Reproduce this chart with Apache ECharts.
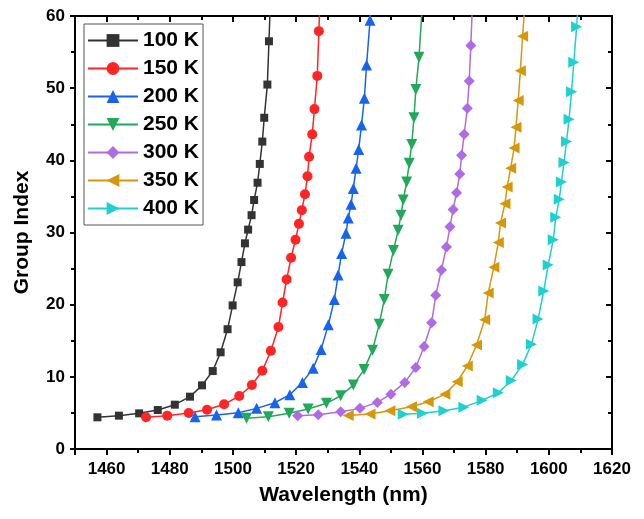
<!DOCTYPE html>
<html>
<head>
<meta charset="utf-8">
<script src="https://cdn.jsdelivr.net/npm/echarts@6/dist/echarts.min.js"></script>
<style>
  html, body { margin: 0; padding: 0; background: #fff; }
  #main { width: 644px; height: 519px; }
</style>
</head>
<body>
<div id="main"></div>
<script>
var names = ['100 K', '150 K', '200 K', '250 K', '300 K', '350 K', '400 K'];

// wavelength (nm) per temperature, last point is where the line leaves the frame
var x100 = [1457.1, 1463.9, 1470.3, 1476.2, 1481.6, 1486.4, 1490.2, 1493.6, 1496.1, 1498.3, 1499.9, 1501.5, 1502.7, 1503.8, 1504.8, 1505.9, 1506.7, 1507.8, 1508.5, 1509.3, 1509.9, 1510.9, 1511.4, 1511.9];
var y100 = [4.39, 4.62, 4.94, 5.40, 6.14, 7.25, 8.82, 10.8, 13.4, 16.6, 19.9, 23.1, 25.9, 28.5, 30.4, 32.4, 34.5, 36.9, 39.5, 42.6, 45.9, 50.5, 56.5, 62.5];

var x150 = [1472.5, 1479.2, 1486.0, 1491.8, 1497.2, 1502.0, 1506.0, 1509.3, 1512.0, 1514.4, 1515.7, 1517.0, 1518.4, 1519.8, 1520.9, 1521.8, 1522.8, 1523.6, 1524.1, 1525.1, 1525.8, 1526.7, 1527.2, 1527.6];
var y150 = [4.39, 4.62, 4.99, 5.45, 6.19, 7.34, 8.86, 10.85, 13.6, 16.9, 20.3, 23.5, 26.5, 29.0, 31.2, 33.1, 35.3, 37.8, 40.5, 43.6, 47.1, 51.7, 57.9, 62.5];

var x200 = [1488.0, 1494.8, 1501.7, 1507.5, 1513.3, 1518.0, 1522.0, 1525.4, 1527.9, 1530.2, 1532.1, 1533.3, 1534.4, 1535.8, 1536.5, 1537.4, 1538.1, 1539.0, 1539.8, 1540.7, 1541.6, 1542.3, 1543.4, 1543.8];
var y200 = [4.48, 4.71, 5.03, 5.63, 6.42, 7.52, 9.23, 11.2, 13.8, 17.2, 20.7, 24.1, 27.1, 29.9, 32.0, 33.9, 36.1, 38.9, 41.5, 44.9, 48.6, 53.2, 59.4, 62.5];

var x250 = [1504.3, 1511.2, 1517.8, 1523.8, 1529.6, 1534.1, 1538.1, 1541.5, 1544.2, 1546.3, 1547.9, 1549.1, 1550.8, 1552.3, 1553.2, 1553.9, 1555.0, 1555.8, 1556.6, 1557.3, 1557.9, 1558.9, 1560.1];
var y250 = [4.25, 4.48, 4.94, 5.54, 6.33, 7.38, 8.86, 11.0, 13.7, 17.3, 20.7, 24.2, 27.5, 30.3, 32.4, 34.5, 37.0, 39.6, 42.2, 45.9, 49.8, 54.3, 62.5];

var x300 = [1520.5, 1527.0, 1534.1, 1540.2, 1545.7, 1550.0, 1554.4, 1557.9, 1560.5, 1562.9, 1564.2, 1566.0, 1567.6, 1568.7, 1569.7, 1570.8, 1571.8, 1572.4, 1573.2, 1574.2, 1574.8, 1575.3, 1575.9];
var y300 = [4.6, 4.75, 5.17, 5.63, 6.46, 7.6, 9.23, 11.3, 14.2, 17.5, 21.3, 24.8, 28.0, 30.8, 33.2, 35.5, 38.1, 40.7, 43.6, 47.2, 51.0, 55.9, 62.5];

var x350 = [1536.5, 1543.4, 1549.7, 1556.5, 1561.8, 1567.1, 1571.0, 1574.2, 1577.1, 1579.7, 1580.8, 1582.6, 1584.0, 1584.7, 1586.1, 1586.8, 1587.9, 1589.0, 1589.6, 1590.3, 1591.0, 1591.7, 1592.6];
var y350 = [4.65, 4.85, 5.3, 5.86, 6.55, 7.57, 9.32, 11.5, 14.4, 17.9, 21.6, 25.2, 28.6, 31.3, 34.0, 36.3, 38.9, 41.7, 44.6, 48.3, 52.4, 57.2, 62.5];

var x400 = [1553.9, 1560.0, 1566.8, 1573.1, 1578.9, 1584.0, 1588.1, 1591.7, 1594.5, 1596.6, 1598.4, 1599.8, 1601.4, 1602.2, 1603.3, 1604.0, 1604.8, 1605.6, 1606.4, 1607.2, 1607.9, 1608.8, 1609.4];
var y400 = [4.8, 4.94, 5.3, 5.8, 6.74, 7.8, 9.5, 11.7, 14.5, 18.0, 21.9, 25.5, 29.0, 32.1, 34.6, 37.0, 39.7, 42.6, 45.7, 49.5, 53.6, 58.5, 62.5];

var xs = [x100, x150, x200, x250, x300, x350, x400];
var ys = [y100, y150, y200, y250, y300, y350, y400];

var colors = ['#333333', '#ff2525', '#1663ee', '#22a85a', '#b06ae6', '#d6980a', '#1dd0d2'];
var symbols = ['rect', 'circle', 'triangle', 'triangle', 'diamond', 'triangle', 'triangle'];
var rotates = [0, 0, 0, 180, 0, 90, -90];
var sizes = [8, 10, 11, 11, 11, 11, 11];

var font = 'Liberation Sans, Arial, sans-serif';

var chartDom = document.getElementById('main');
var myChart = echarts.init(chartDom);

var series = names.map(function (n, i) {
    return {
        name: n,
        type: 'line',
        data: xs[i].map(function (v, k) { return [v, ys[i][k]]; }),
        symbol: symbols[i],
        symbolRotate: rotates[i],
        symbolSize: sizes[i],
        showAllSymbol: true,
        clip: true,
        color: colors[i],
        lineStyle: { width: 1.5, color: colors[i] },
        itemStyle: { color: colors[i] },
        animation: false
    };
});

function axisBase() {
    return {
        axisLine: { show: true, onZero: false, lineStyle: { color: '#000', width: 2 } },
        splitLine: { show: false },
        minorSplitLine: { show: false }
    };
}

var option = {
    backgroundColor: '#fff',
    animation: false,
    grid: { left: 75, right: 32, top: 16, bottom: 70 },
    legend: {
        left: 84,
        top: 24,
        orient: 'vertical',
        data: names,
        itemWidth: 50,
        itemHeight: 16,
        itemGap: 7,
        padding: [6, 4, 6, 3],
        borderColor: '#555',
        borderWidth: 1,
        textStyle: { fontFamily: font, fontWeight: 'bold', fontSize: 21, color: '#000' }
    },
    xAxis: [
        Object.assign(axisBase(), {
            type: 'value',
            position: 'bottom',
            min: 1450,
            max: 1620,
            splitNumber: 8,
            minInterval: 20,
            maxInterval: 20,
            name: 'Wavelength (nm)',
            nameLocation: 'middle',
            nameGap: 36,
            nameTextStyle: { fontFamily: font, fontWeight: 'bold', fontSize: 21, color: '#000' },
            axisTick: { show: true, inside: false, length: 6, lineStyle: { color: '#000', width: 2 } },
            minorTick: { show: true, splitNumber: 2, length: 4, lineStyle: { color: '#000', width: 2 } },
            axisLabel: {
                showMinLabel: false, margin: 12,
                fontFamily: font, fontWeight: 'bold', fontSize: 17, color: '#000',
                formatter: function (v) { return String(v); }
            }
        }),
        Object.assign(axisBase(), {
            type: 'value',
            position: 'top',
            min: 1450,
            max: 1620,
            splitNumber: 8,
            minInterval: 20,
            maxInterval: 20,
            axisTick: { show: true, inside: true, length: 6, lineStyle: { color: '#000', width: 2 } },
            minorTick: { show: true, splitNumber: 2, length: 4, lineStyle: { color: '#000', width: 2 } },
            axisLabel: { show: false }
        })
    ],
    yAxis: [
        Object.assign(axisBase(), {
            type: 'value',
            position: 'left',
            min: 0,
            max: 60,
            interval: 10,
            name: 'Group Index',
            nameLocation: 'middle',
            nameGap: 42,
            nameTextStyle: { fontFamily: font, fontWeight: 'bold', fontSize: 21, color: '#000' },
            axisTick: { show: true, inside: false, length: 5, lineStyle: { color: '#000', width: 2 } },
            minorTick: { show: true, splitNumber: 2, length: 4, lineStyle: { color: '#000', width: 2 } },
            axisLabel: { margin: 10, fontFamily: font, fontWeight: 'bold', fontSize: 17, color: '#000' }
        }),
        Object.assign(axisBase(), {
            type: 'value',
            position: 'right',
            min: 0,
            max: 60,
            interval: 10,
            axisTick: { show: true, inside: true, length: 6, lineStyle: { color: '#000', width: 2 } },
            minorTick: { show: true, splitNumber: 2, length: 4, lineStyle: { color: '#000', width: 2 } },
            axisLabel: { show: false }
        })
    ],
    series: series
};

option && myChart.setOption(option);
window.onresize = function () {
    myChart.resize();
};
</script>
</body>
</html>
